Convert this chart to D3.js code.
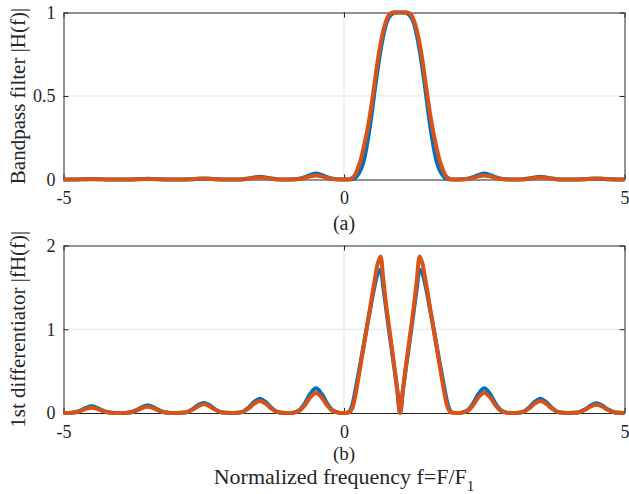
<!DOCTYPE html>
<html><head><meta charset="utf-8">
<script src="https://cdn.jsdelivr.net/npm/d3@7"></script>
<style>
body{margin:0;background:#fff}
svg{display:block}
text{font-family:"Liberation Serif","Tinos","Times New Roman","Nimbus Roman","DejaVu Serif",serif;fill:#262626}
</style>
</head><body>
<svg id="chart" width="629" height="494"></svg>
<script>
// Normalized frequency samples
const freq = [
 -5,-4.9,-4.8,-4.7,-4.6,-4.5,-4.4,-4.3,-4.2,-4.1,
 -4,-3.9,-3.8,-3.7,-3.6,-3.5,-3.4,-3.3,-3.2,-3.1,
 -3,-2.9,-2.8,-2.7,-2.6,-2.5,-2.4,-2.3,-2.2,-2.1,
 -2,-1.9,-1.8,-1.7,-1.6,-1.5,-1.4,-1.3,-1.2,-1.1,
 -1,-0.9,-0.8,-0.7,-0.6,-0.5,-0.4,-0.3,-0.2,-0.1,
 0,0.05,0.1,0.15,0.2,0.25,0.3,0.35,0.4,0.45,
 0.5,0.55,0.6,0.65,0.7,0.75,0.8,0.85,0.9,0.95,
 1,1.05,1.1,1.15,1.2,1.25,1.3,1.35,1.4,1.45,
 1.5,1.55,1.6,1.65,1.7,1.75,1.8,1.85,1.9,1.95,
 2,2.1,2.2,2.3,2.4,2.5,2.6,2.7,2.8,2.9,
 3,3.1,3.2,3.3,3.4,3.5,3.6,3.7,3.8,3.9,
 4,4.1,4.2,4.3,4.4,4.5,4.6,4.7,4.8,4.9,5
];
// (a) Bandpass filter |H(f)| - blue series
const bandBlue = [
 0,0,0,0.001,0.002,0.003,0.002,0.001,0,0,
 0,0,0,0.002,0.003,0.004,0.003,0.002,0,0,
 0,0,0.001,0.002,0.005,0.006,0.005,0.002,0.001,0,
 0,0,0.002,0.006,0.012,0.016,0.012,0.006,0.002,0,
 0,0.001,0.004,0.014,0.028,0.036,0.028,0.014,0.004,0.001,
 0,0,0,0.003,0.01,0.03,0.06,0.11,0.19,0.29,
 0.41,0.54,0.66,0.77,0.86,0.93,0.97,0.99,1,1,
 1,1,1,0.99,0.97,0.93,0.86,0.77,0.66,0.54,
 0.41,0.29,0.19,0.11,0.06,0.03,0.01,0.003,0,0,
 0,0.001,0.004,0.014,0.028,0.036,0.028,0.014,0.004,0.001,
 0,0,0.002,0.006,0.012,0.016,0.012,0.006,0.002,0,
 0,0,0.001,0.002,0.005,0.006,0.005,0.002,0.001,0,0
];
// (a) Bandpass filter |H(f)| - orange series
const bandOrange = [
 0,0,0,0.001,0.002,0.002,0.002,0.001,0,0,
 0,0,0,0.001,0.002,0.003,0.002,0.001,0,0,
 0,0,0,0.002,0.004,0.005,0.004,0.002,0,0,
 0,0,0.001,0.005,0.009,0.012,0.009,0.005,0.001,0,
 0,0,0.003,0.009,0.019,0.024,0.019,0.009,0.003,0,
 0,0,0.002,0.01,0.03,0.07,0.12,0.19,0.27,0.36,
 0.47,0.59,0.71,0.81,0.89,0.95,0.985,0.998,1,1,
 1,1,1,0.998,0.985,0.95,0.89,0.81,0.71,0.59,
 0.47,0.36,0.27,0.19,0.12,0.07,0.03,0.01,0.002,0,
 0,0,0.003,0.009,0.019,0.024,0.019,0.009,0.003,0,
 0,0,0.001,0.005,0.009,0.012,0.009,0.005,0.001,0,
 0,0,0,0.002,0.004,0.005,0.004,0.002,0,0,0
];
// (b) 1st differentiator |fH(f)| - blue series
const diffBlue = [
 0,0.001,0.008,0.03,0.062,0.08,0.062,0.03,0.008,0.001,
 0,0.001,0.009,0.035,0.072,0.092,0.072,0.035,0.009,0.001,
 0,0.002,0.012,0.046,0.094,0.12,0.094,0.046,0.012,0.002,
 0,0.003,0.017,0.065,0.133,0.17,0.133,0.065,0.017,0.003,
 0,0.004,0.03,0.112,0.23,0.295,0.23,0.112,0.03,0.004,
 0,0.003,0.02,0.1,0.26,0.44,0.62,0.81,1.0,1.18,
 1.36,1.53,1.66,1.71,1.5,1.25,1.0,0.76,0.52,0.27,
 0,0.27,0.52,0.76,1.0,1.25,1.5,1.71,1.66,1.53,
 1.36,1.18,1.0,0.81,0.62,0.44,0.26,0.1,0.02,0.003,
 0,0.004,0.03,0.112,0.23,0.295,0.23,0.112,0.03,0.004,
 0,0.003,0.017,0.065,0.133,0.17,0.133,0.065,0.017,0.003,
 0,0.002,0.012,0.044,0.09,0.115,0.09,0.044,0.012,0.002,0
];
// (b) 1st differentiator |fH(f)| - orange series
const diffOrange = [
 0,0.001,0.006,0.024,0.05,0.064,0.05,0.024,0.006,0.001,
 0,0.001,0.008,0.029,0.059,0.076,0.059,0.029,0.008,0.001,
 0,0.002,0.01,0.04,0.081,0.104,0.081,0.04,0.01,0.002,
 0,0.002,0.014,0.054,0.112,0.143,0.112,0.054,0.014,0.002,
 0,0.004,0.024,0.091,0.187,0.24,0.187,0.091,0.024,0.004,
 0,0,0.01,0.06,0.2,0.39,0.59,0.79,0.99,1.19,
 1.4,1.6,1.78,1.87,1.6,1.3,1.045,0.79,0.54,0.28,
 0,0.28,0.54,0.79,1.045,1.3,1.6,1.87,1.78,1.6,
 1.4,1.19,0.99,0.79,0.59,0.39,0.2,0.06,0.01,0,
 0,0.004,0.024,0.092,0.19,0.243,0.19,0.092,0.024,0.004,
 0,0.002,0.014,0.054,0.112,0.143,0.112,0.054,0.014,0.002,
 0,0.002,0.01,0.038,0.078,0.1,0.078,0.038,0.01,0.002,0
];
const xTicks = [-5, 0, 5];
const topYTicks = [0, 0.5, 1];
const botYTicks = [0, 1, 2];
const xGrid = [0];
const topYGrid = [0.5];
const botYGrid = [1];
const topYLabel = "Bandpass filter |H(f)|";
const botYLabel = "1st differentiator |fH(f)|";
const topTag = "(a)";
const botTag = "(b)";

const FONT = '"Liberation Serif","Tinos","Times New Roman","Nimbus Roman","DejaVu Serif",serif';
const svg = d3.select("#chart");
const BLUE = "#0072BD", ORANGE = "#D95319", AX = "#262626";
const left = 63.5, right = 624.5;
const x = d3.scaleLinear().domain([-5, 5]).range([left, right]);

function panel(cfg) {
  const y = d3.scaleLinear().domain(cfg.domain).range([cfg.bottom, cfg.top]);
  const g = svg.append("g");
  g.selectAll(".gx").data(xGrid).join("line")
    .attr("x1", d => x(d)).attr("x2", d => x(d))
    .attr("y1", cfg.top).attr("y2", cfg.bottom)
    .attr("stroke", "#e3e3e3").attr("stroke-width", 1);
  g.selectAll(".gy").data(cfg.grid).join("line")
    .attr("x1", left).attr("x2", right)
    .attr("y1", d => y(d)).attr("y2", d => y(d))
    .attr("stroke", "#e3e3e3").attr("stroke-width", 1);
  const fmt = d => String(d);
  const xb = g.append("g").attr("transform", `translate(0,${cfg.bottom})`)
    .call(d3.axisBottom(x).tickValues(xTicks).tickFormat(fmt).tickSizeInner(-5).tickSizeOuter(0).tickPadding(cfg.xpad));
  const xt = g.append("g").attr("transform", `translate(0,${cfg.top})`)
    .call(d3.axisTop(x).tickValues(xTicks).tickFormat("").tickSizeInner(-5).tickSizeOuter(0));
  const yl = g.append("g").attr("transform", `translate(${left},0)`)
    .call(d3.axisLeft(y).tickValues(cfg.ticks).tickFormat(fmt).tickSizeInner(-5).tickSizeOuter(0).tickPadding(8));
  const yr = g.append("g").attr("transform", `translate(${right},0)`)
    .call(d3.axisRight(y).tickValues(cfg.ticks).tickFormat("").tickSizeInner(-5).tickSizeOuter(0));
  [xb, xt, yl, yr].forEach(a => {
    a.attr("font-family", FONT);
    a.select(".domain").attr("stroke", AX).attr("stroke-width", 1);
    a.selectAll(".tick line").attr("stroke", AX);
    a.selectAll(".tick text").attr("font-size", 18).attr("fill", AX).attr("font-family", FONT);
  });
  const line = d3.line().x((d, i) => x(freq[i])).y(d => y(d)).curve(d3.curveCatmullRom.alpha(0.5));
  g.append("path").attr("d", line(cfg.blue)).attr("fill", "none")
    .attr("stroke", BLUE).attr("stroke-width", 4).attr("stroke-linejoin", "round");
  g.append("path").attr("d", line(cfg.orange)).attr("fill", "none")
    .attr("stroke", ORANGE).attr("stroke-width", 4).attr("stroke-linejoin", "round");
  g.append("text").attr("transform", `translate(25,${(cfg.top + cfg.bottom) / 2}) rotate(-90)`)
    .attr("text-anchor", "middle").attr("font-size", 21).attr("font-family", FONT).text(cfg.ylabel);
  g.append("text").attr("x", x(0)).attr("y", cfg.tagY)
    .attr("text-anchor", "middle").attr("font-size", cfg.tagSize).attr("font-family", FONT).text(cfg.tag);
}

panel({domain: [0, 1], top: 12.5, bottom: 179.5, ticks: topYTicks, grid: topYGrid,
  blue: bandBlue, orange: bandOrange, ylabel: topYLabel, tag: topTag, tagY: 230, tagSize: 20, xpad: 12});
panel({domain: [0, 2], top: 245.5, bottom: 413, ticks: botYTicks, grid: botYGrid,
  blue: diffBlue, orange: diffOrange, ylabel: botYLabel, tag: botTag, tagY: 459.5, tagSize: 19, xpad: 12.5});

const xl = svg.append("text").attr("x", x(0)).attr("y", 483.5)
  .attr("text-anchor", "middle").attr("font-size", 22).attr("font-family", FONT);
xl.append("tspan").text("Normalized frequency f=F/F");
xl.append("tspan").attr("dy", 7).attr("font-size", 15).text("1");
</script>
</body></html>
